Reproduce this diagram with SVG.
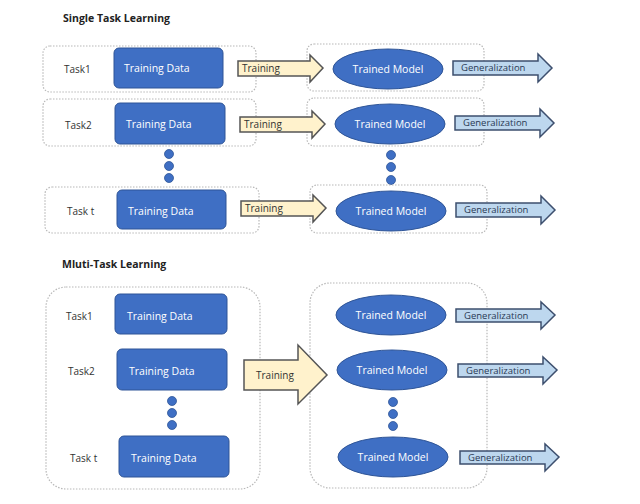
<svg xmlns="http://www.w3.org/2000/svg" width="640" height="504" viewBox="0 0 640 504">
<style>
text{font-family:"Open Sans","Liberation Sans",sans-serif;}
.title{font-size:10.5px;font-weight:bold;fill:#222;}
.box{fill:#fff;stroke:#b8b8b8;stroke-width:1.2;stroke-dasharray:1.5 1.5;}
.data{fill:#3f6fc4;stroke:#2f5597;stroke-width:1;}
.model{fill:#3f6fc4;stroke:#2f5597;stroke-width:1;}
.wt{font-size:10.5px;fill:#fff;}
.task{font-size:10px;fill:#333;}
.dot{fill:#3f6fc4;stroke:#2f5597;stroke-width:0.8;}
.tr{fill:#fff2cc;stroke:#555;stroke-width:1.5;}
.gen{fill:#bdd7ee;stroke:#3d4f6e;stroke-width:1.5;}
.tl{font-size:10px;fill:#333;}
.gl{font-size:9.5px;fill:#2a3a55;}
</style>
<rect width="640" height="504" fill="#fff"/>
<text class="title" x="63" y="22">Single Task Learning</text>
<text class="title" x="62" y="268">Mluti-Task Learning</text>

<g id="stl-task1">
<rect class="box" x="43" y="46" width="213" height="46" rx="7"/>
<text class="task" x="64" y="73">Task1</text>
<rect class="data" x="114" y="48" width="109" height="40" rx="5"/>
<text class="wt" x="124" y="72">Training Data</text>
</g>
<g id="stl-task2">
<rect class="box" x="43" y="99" width="213" height="47" rx="7"/>
<text class="task" x="65" y="129">Task2</text>
<rect class="data" x="115" y="103" width="110" height="41" rx="5"/>
<text class="wt" x="126" y="128">Training Data</text>
</g>
<g id="stl-dots-left">
<circle class="dot" cx="169" cy="154" r="4.5"/>
<circle class="dot" cx="169" cy="166" r="4.5"/>
<circle class="dot" cx="169" cy="178" r="4.5"/>
</g>
<g id="stl-taskt">
<rect class="box" x="45" y="187" width="214" height="46" rx="7"/>
<text class="task" x="67" y="215">Task t</text>
<rect class="data" x="117" y="190" width="109" height="39" rx="5"/>
<text class="wt" x="128" y="215">Training Data</text>
</g>

<g id="stl-model1">
<rect class="box" x="307" y="44" width="177" height="47" rx="7"/>
<ellipse class="model" cx="388" cy="69" rx="55" ry="20"/>
<text class="wt" x="388" y="72.5" text-anchor="middle">Trained Model</text>
</g>
<g id="stl-model2">
<rect class="box" x="307" y="98" width="177" height="48" rx="7"/>
<ellipse class="model" cx="390" cy="124" rx="55" ry="20"/>
<text class="wt" x="390" y="128" text-anchor="middle">Trained Model</text>
</g>
<g id="stl-dots-right">
<circle class="dot" cx="391" cy="155" r="4.5"/>
<circle class="dot" cx="391" cy="167" r="4.5"/>
<circle class="dot" cx="391" cy="180" r="4.5"/>
</g>
<g id="stl-modelt">
<rect class="box" x="310" y="185" width="177" height="48" rx="7"/>
<ellipse class="model" cx="391" cy="211" rx="55" ry="20"/>
<text class="wt" x="391" y="215" text-anchor="middle">Trained Model</text>
</g>

<g id="mtl-tasks">
<rect class="box" x="46" y="287" width="214" height="202" rx="20"/>
<text class="task" x="66" y="320">Task1</text>
<rect class="data" x="115" y="294" width="112" height="40" rx="5"/>
<text class="wt" x="127" y="320">Training Data</text>
<text class="task" x="68" y="375">Task2</text>
<rect class="data" x="117" y="349" width="110" height="41" rx="5"/>
<text class="wt" x="129" y="375">Training Data</text>
<circle class="dot" cx="172" cy="401" r="4.5"/>
<circle class="dot" cx="172" cy="413" r="4.5"/>
<circle class="dot" cx="172" cy="425" r="4.5"/>
<text class="task" x="70" y="462">Task t</text>
<rect class="data" x="119" y="436" width="110" height="41" rx="5"/>
<text class="wt" x="131" y="462">Training Data</text>
</g>
<g id="mtl-models">
<rect class="box" x="310" y="283" width="177" height="205" rx="20"/>
<ellipse class="model" cx="391" cy="315" rx="55" ry="20"/>
<text class="wt" x="391" y="319" text-anchor="middle">Trained Model</text>
<ellipse class="model" cx="392" cy="370" rx="55" ry="20"/>
<text class="wt" x="392" y="374" text-anchor="middle">Trained Model</text>
<circle class="dot" cx="393" cy="402" r="4.5"/>
<circle class="dot" cx="393" cy="414" r="4.5"/>
<circle class="dot" cx="393" cy="426" r="4.5"/>
<ellipse class="model" cx="393" cy="457" rx="55" ry="20"/>
<text class="wt" x="393" y="461" text-anchor="middle">Trained Model</text>
</g>

<g id="connectors">
<path class="tr" d="M238,61 H310 V55 L323,68 L310,82 V76 H238 Z"/>
<text class="tl" x="242" y="72">Training</text>
<path class="tr" d="M240,117 H312 V111 L325,124 L312,138 V132 H240 Z"/>
<text class="tl" x="244" y="128">Training</text>
<path class="tr" d="M241,201 H313 V195 L326,208 L313,222 V216 H241 Z"/>
<text class="tl" x="245" y="212">Training</text>

<path class="gen" d="M453,61 H538 V54 L552,68 L538,82 V75 H453 Z"/>
<text class="gl" x="461" y="71">Generalization</text>
<path class="gen" d="M455,116 H540 V109 L554,123 L540,137 V130 H455 Z"/>
<text class="gl" x="463" y="126">Generalization</text>
<path class="gen" d="M456,203 H541 V196 L555,210 L541,224 V217 H456 Z"/>
<text class="gl" x="464" y="213">Generalization</text>

<path class="tr" d="M244,360 H298 V345 L327,375 L298,404 V390 H244 Z"/>
<text class="tl" x="256" y="379">Training</text>

<path class="gen" d="M456,309 H541 V302 L555,315 L541,329 V322 H456 Z"/>
<text class="gl" x="464" y="319">Generalization</text>
<path class="gen" d="M458,364 H543 V357 L557,370 L543,384 V377 H458 Z"/>
<text class="gl" x="466" y="374">Generalization</text>
<path class="gen" d="M460,451 H545 V444 L559,457 L545,471 V464 H460 Z"/>
<text class="gl" x="468" y="461">Generalization</text>
</g>
</svg>
